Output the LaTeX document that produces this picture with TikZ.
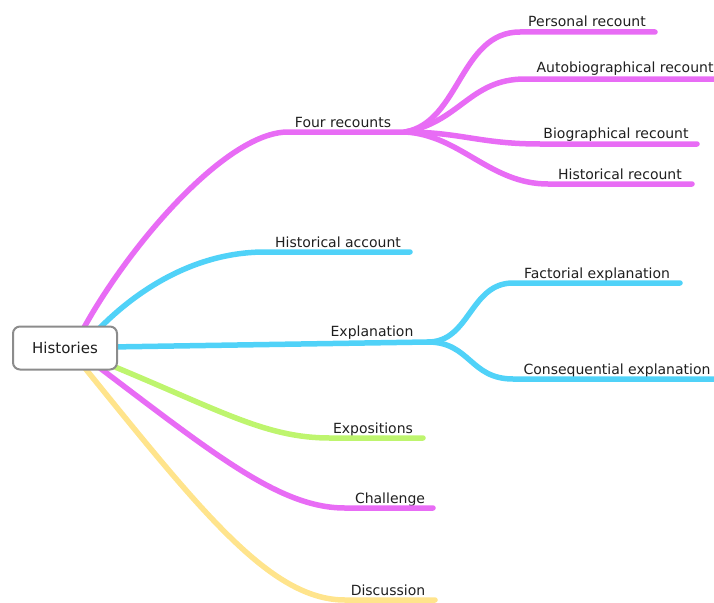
\documentclass[tikz,border=0pt]{standalone}
\usepackage{fontspec}
\setmainfont{DejaVu Sans}
\definecolor{mag}{RGB}{232,108,245}
\definecolor{cy}{RGB}{80,210,248}
\definecolor{gr}{RGB}{190,245,110}
\definecolor{ye}{RGB}{255,228,140}
\definecolor{bx}{RGB}{140,140,140}
\begin{document}
\begin{tikzpicture}[x=1pt,y=-1pt,
  br/.style={line width=5.5pt,line cap=round},
  lbl/.style={anchor=base,inner sep=0pt,font=\fontsize{14}{16}\selectfont,text=black!88},
  rootbox/.style={draw=bx,line width=2pt,rounded corners=7pt,fill=white,minimum width=104pt,minimum height=43pt,font=\fontsize{15}{17}\selectfont,text=black!88}]
\useasboundingbox (0,0) rectangle (714,602);
% coordinates
\coordinate (r4) at (80,335);
\coordinate (rha) at (93,335);
\coordinate (rex) at (110,347);
\coordinate (rexp) at (103,362);
\coordinate (rch) at (92,362);
\coordinate (rdi) at (80,362);
\coordinate (j4) at (405,132);
\coordinate (je) at (428,342);
% labels
\node[lbl] (l4) at (343,127) {Four recounts};
\node[lbl] (lpr) at (587,27) {Personal recount};
\node[lbl] (lar) at (625,73) {Autobiographical recount};
\node[lbl] (lbr) at (616,138) {Biographical recount};
\node[lbl] (lhr) at (620,179) {Historical recount};
\node[lbl] (lha) at (338,247) {Historical account};
\node[lbl] (lex) at (372,336) {Explanation};
\node[lbl] (lfe) at (597,278) {Factorial explanation};
\node[lbl] (lce) at (617,374) {Consequential explanation};
\node[lbl] (lexp) at (373,433) {Expositions};
\node[lbl] (lch) at (390,503) {Challenge};
\node[lbl] (ldi) at (388,595) {Discussion};
% main branches
\draw[br,mag] (r4) .. controls (125,250) and (225,132) .. (288,132) -- (j4);
\draw[br,cy] (rha) .. controls (135,290) and (195,252) .. (265,252) -- (410,252);
\draw[br,cy] (rex) -- (je);
\draw[br,gr] (rexp) .. controls (220,410) and (265,438) .. (330,438) -- (423,438);
\draw[br,mag] (rch) .. controls (215,455) and (280,508) .. (345,508) -- (433,508);
\draw[br,ye] (rdi) .. controls (200,510) and (270,600) .. (345,600) -- (435,600);
% sub branches
\draw[br,mag] (j4) .. controls (460,122) and (460,32) .. (520,32) -- (655,32);
\draw[br,mag] (j4) .. controls (460,122) and (470,79) .. (525,79) -- (720,79);
\draw[br,mag] (j4) .. controls (460,132) and (480,144) .. (540,144) -- (697,144);
\draw[br,mag] (j4) .. controls (460,135) and (490,184) .. (548,184) -- (692,184);
\draw[br,cy] (je) .. controls (470,342) and (470,283) .. (513,283) -- (680,283);
\draw[br,cy] (je) .. controls (470,342) and (470,379) .. (513,379) -- (720,379);
% root
\node[rootbox] (root) at (65,348) {Histories};
\end{tikzpicture}
\end{document}
